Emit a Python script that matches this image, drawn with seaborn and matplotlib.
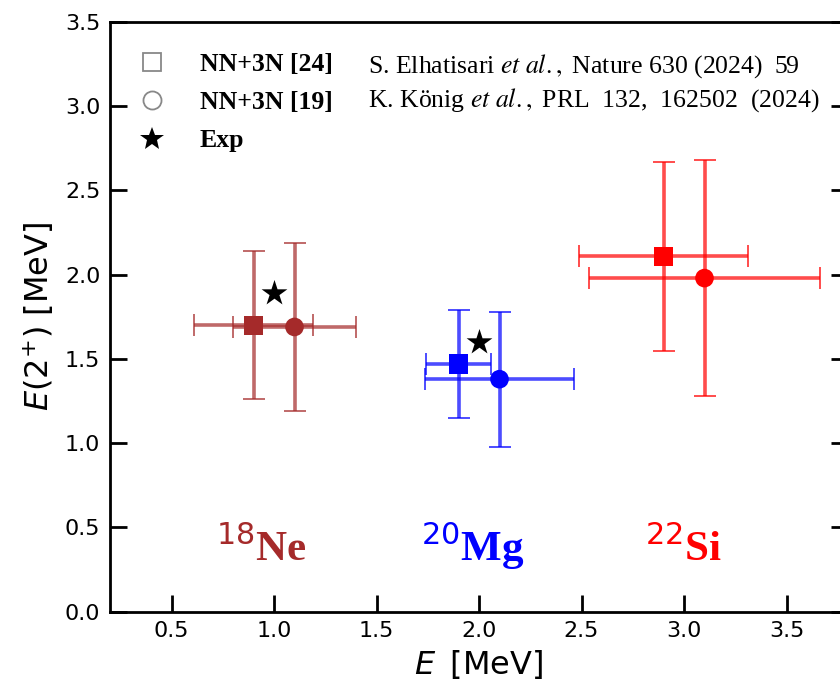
import matplotlib
matplotlib.use("Agg")
import matplotlib.pyplot as plt
from matplotlib.lines import Line2D
import seaborn as sns
import pandas as pd

# ---- data ----
nuclei = ["18Ne", "20Mg", "22Si"]
iso_labels = [r"$^{18}$Ne", r"$^{20}$Mg", r"$^{22}$Si"]
label_x = [0.94, 1.97, 3.0]
label_y = [0.30, 0.30, 0.30]

x24 = [0.90, 1.90, 2.90]
y24 = [1.70, 1.47, 2.11]
xerr24 = [0.29, 0.16, 0.41]
yerr24 = [0.44, 0.32, 0.56]

x19 = [1.10, 2.10, 3.10]
y19 = [1.69, 1.38, 1.98]
xerr19 = [0.30, 0.365, 0.563]
yerr19 = [0.50, 0.40, 0.70]

x_exp = [1.0, 2.0]
y_exp = [1.89, 1.60]

legend_labels = ["NN+3N [24]", "NN+3N [19]", "Exp"]
ref_texts = [r"S. Elhatisari $\mathit{et\ al.,}$ Nature 630 (2024)  59",
             r"K. König $\mathit{et\ al.,}$ PRL  132,  162502  (2024)"]
ref_x = [1.46, 1.46]
ref_y = [3.20, 3.00]

xticks = [0.5, 1.0, 1.5, 2.0, 2.5, 3.0, 3.5]
yticks = [0.0, 0.5, 1.0, 1.5, 2.0, 2.5, 3.0, 3.5]

# ---- style ----
colors = ["#A52A2A", "#0000FF", "#FF0000"]
sns.set_style("ticks")
plt.rcParams["font.family"] = ["DejaVu Sans"]
plt.rcParams["mathtext.fontset"] = "dejavusans"
plt.rcParams["text.color"] = "black"
plt.rcParams["axes.labelcolor"] = "black"

fig = plt.figure(figsize=(8.4, 6.81), dpi=100)
ax = fig.add_axes([110 / 840, (681 - 611.7) / 681, 738 / 840, 589.7 / 681])

df24 = pd.DataFrame({"x": x24, "y": y24, "nuc": nuclei})
df19 = pd.DataFrame({"x": x19, "y": y19, "nuc": nuclei})
dfexp = pd.DataFrame({"x": x_exp, "y": y_exp})
pal = dict(zip(nuclei, colors))

for xs, ys, xe, ye in [(x24, y24, xerr24, yerr24), (x19, y19, xerr19, yerr19)]:
    for i in range(len(nuclei)):
        ax.errorbar(xs[i], ys[i], xerr=xe[i], yerr=ye[i], fmt="none",
                    ecolor=colors[i], elinewidth=2.6, capsize=8,
                    capthick=1.4, alpha=0.7, zorder=2)

sns.scatterplot(data=df24, x="x", y="y", hue="nuc", palette=pal, marker="s",
                s=190, linewidth=0, ax=ax, legend=False, zorder=4)
sns.scatterplot(data=df19, x="x", y="y", hue="nuc", palette=pal, marker="o",
                s=180, linewidth=0, ax=ax, legend=False, zorder=4)
sns.scatterplot(data=dfexp, x="x", y="y", color="black", marker="*",
                s=380, linewidth=0, ax=ax, legend=False, zorder=5)

for lab, lx, ly, c in zip(iso_labels, label_x, label_y, colors):
    ax.text(lx, ly, lab, color=c, fontsize=31, fontweight="bold",
            family="Liberation Serif", ha="center", va="baseline")

handles = [
    Line2D([], [], ls="none", marker="s", ms=13, mfc="none", mec="#888888", mew=1.3),
    Line2D([], [], ls="none", marker="o", ms=13, mfc="none", mec="#888888", mew=1.3),
    Line2D([], [], ls="none", marker="*", ms=18, mfc="black", mec="black", mew=0),
]
leg = ax.legend(handles, legend_labels, loc="upper left",
                bbox_to_anchor=(0.039, 0.948), borderaxespad=0, borderpad=0,
                frameon=False, handlelength=1.0, handletextpad=1.37,
                labelspacing=0.6,
                prop={"family": "Liberation Serif", "weight": "bold", "size": 18.5})

for t, rx, ry in zip(ref_texts, ref_x, ref_y):
    ax.text(rx, ry, t, fontsize=18.5, family="Liberation Serif",
            math_fontfamily="stix", ha="left", va="baseline")

ax.set_xlim(0.2, 3.8)
ax.set_ylim(0.0, 3.5)
ax.set_xticks(xticks)
ax.set_yticks(yticks)
ax.set_xticklabels([f"{v:.1f}" for v in xticks])
ax.set_yticklabels([f"{v:.1f}" for v in yticks])
ax.tick_params(axis="both", direction="in", length=12, width=2, labelsize=16,
               color="black", labelcolor="black")
ax.tick_params(axis="y", right=True, pad=7)
ax.tick_params(axis="x", top=False, pad=7)
for sp in ax.spines.values():
    sp.set_linewidth(2)
    sp.set_color("black")
    sp.set_visible(True)

ax.set_xlabel(r"$E\,$ [MeV]", fontsize=23, labelpad=5)
ax.set_ylabel(r"$E(2^{+})$ [MeV]", fontsize=23, labelpad=6)

fig.savefig("out.png", dpi=100)
